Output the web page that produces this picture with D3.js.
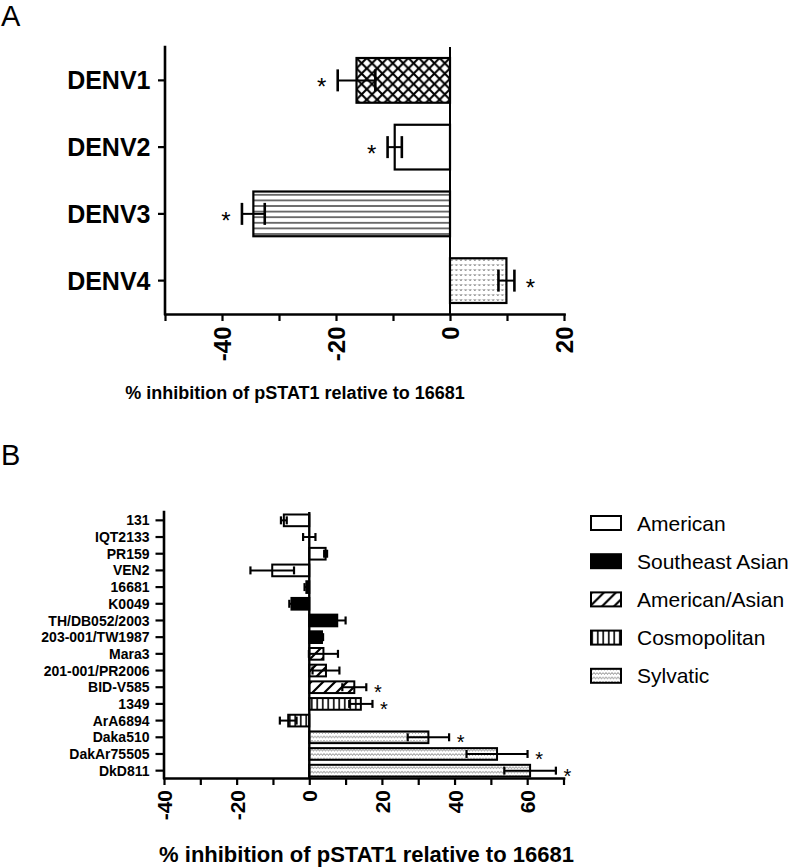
<!DOCTYPE html>
<html><head><meta charset="utf-8">
<script src="https://cdn.jsdelivr.net/npm/d3@7"></script>
<style>
html,body{margin:0;padding:0;background:#fff;}
svg{display:block;}
text{font-family:"Liberation Sans",Arial,Helvetica,sans-serif;fill:#000;}
</style></head><body>
<svg id="chart" width="794" height="867"></svg>
<script>
// ---------- data ----------
const panelACategories = ["DENV1", "DENV2", "DENV3", "DENV4"];
const panelAValues = [-16.4, -9.7, -34.5, 9.9];
const panelAErrors = [3.3, 1.25, 2.0, 1.4];
const panelASignificant = [true, true, true, true];
const panelATickValues = [-50, -40, -30, -20, -10, 0, 10, 20];
const panelATickLabels = [-40, -20, 0, 20];

const panelBStrains = ["131", "IQT2133", "PR159", "VEN2", "16681", "K0049", "TH/DB052/2003",
  "203-001/TW1987", "Mara3", "201-001/PR2006", "BID-V585", "1349", "ArA6894", "Daka510",
  "DakAr75505", "DkD811"];
const panelBGenotypes = ["American", "American", "American", "American",
  "Southeast Asian", "Southeast Asian", "Southeast Asian", "Southeast Asian",
  "American/Asian", "American/Asian", "American/Asian",
  "Cosmopolitan", "Cosmopolitan", "Sylvatic", "Sylvatic", "Sylvatic"];
const panelBValues = [-7.0, 0.0, 4.5, -10.2, -0.8, -4.9, 7.7, 3.5, 3.9, 4.6, 12.4, 14.2, -5.8, 32.8, 51.7, 60.8];
const panelBErrors = [0.8, 1.7, 0.4, 6.0, 0.5, 0.6, 2.3, 0.3, 4.0, 3.7, 3.3, 3.2, 2.3, 5.7, 8.4, 7.1];
const panelBSignificant = [false, false, false, false, false, false, false, false, false, false,
  true, true, false, true, true, true];
const panelBTickValues = [-40, -30, -20, -10, 0, 10, 20, 30, 40, 50, 60, 70];
const panelBTickLabels = [-40, -20, 0, 20, 40, 60];
const genotypeNames = ["American", "Southeast Asian", "American/Asian", "Cosmopolitan", "Sylvatic"];
const axisTitle = "% inhibition of pSTAT1 relative to 16681";
const panelLetters = ["A", "B"];

// ---------- setup ----------
const svg = d3.select("#chart");
const FONT = '"Liberation Sans", Arial, Helvetica, sans-serif';
svg.append("rect").attr("width", 794).attr("height", 867).attr("fill", "#fff");
const defs = svg.append("defs");

function pattern(id, w, h, x0, y0, build) {
  const p = defs.append("pattern").attr("id", id).attr("patternUnits", "userSpaceOnUse")
    .attr("width", w).attr("height", h).attr("x", x0).attr("y", y0);
  p.append("rect").attr("width", w).attr("height", h).attr("fill", "#fff");
  build(p);
}
// crosshatch (DENV1)
pattern("pat-cross", 10.4, 10.4, 450, 58, p => {
  p.append("path").attr("d", "M0,0L10.4,10.4M10.4,0L0,10.4").attr("stroke", "#000")
    .attr("stroke-width", 2.1).attr("stroke-linecap", "square");
});
// horizontal lines (DENV3)
pattern("pat-hline", 10, 5.6, 0, 192, p => {
  p.append("line").attr("x1", 0).attr("x2", 10).attr("y1", 2.8).attr("y2", 2.8)
    .attr("stroke", "#000").attr("stroke-width", 1.1);
});
// stipple (DENV4)
pattern("pat-dots", 4.6, 5, 450, 258, p => {
  p.append("path").attr("d", "M0.8,1.2l1,1.6l1,-1.6").attr("fill", "none")
    .attr("stroke", "#555").attr("stroke-width", 0.8);
});
// diagonal (American/Asian)
pattern("pat-diag", 12, 12, 309, 0, p => {
  p.append("path").attr("d", "M0,12L12,0M-3,3L3,-3M9,15L15,9").attr("stroke", "#000")
    .attr("stroke-width", 2.2);
});
// vertical lines (Cosmopolitan)
pattern("pat-vline", 5.5, 10, 309, 0, p => {
  p.append("line").attr("x1", 2.75).attr("x2", 2.75).attr("y1", 0).attr("y2", 10)
    .attr("stroke", "#000").attr("stroke-width", 1.6);
});
// stipple (Sylvatic)
pattern("pat-sylv", 6, 4.4, 309, 0, p => {
  p.append("path").attr("d", "M0,1.2l1.5,1.8l1.5,-1.8l1.5,1.8l1.5,-1.8").attr("fill", "none")
    .attr("stroke", "#666").attr("stroke-width", 0.75);
});

const fillA = { DENV1: "url(#pat-cross)", DENV2: "#fff", DENV3: "url(#pat-hline)", DENV4: "url(#pat-dots)" };
const fillB = {
  "American": "#fff", "Southeast Asian": "#000", "American/Asian": "url(#pat-diag)",
  "Cosmopolitan": "url(#pat-vline)", "Sylvatic": "url(#pat-sylv)"
};

// panel letters
svg.append("text").attr("x", 1).attr("y", 26).attr("font-size", 29).text(panelLetters[0]);
svg.append("text").attr("x", 1).attr("y", 465).attr("font-size", 29).text(panelLetters[1]);

// ---------- panel A ----------
const xA = d3.scaleLinear().domain([-50, 20]).range([165, 564]);
const yA = d3.scaleBand().domain(panelACategories).range([47, 314]).paddingInner(0.33).paddingOuter(0.165);
const gA = svg.append("g");
const dataA = panelACategories.map((c, i) => ({ c, v: panelAValues[i], e: panelAErrors[i], s: panelASignificant[i] }));

gA.selectAll("rect.bar").data(dataA).join("rect").attr("class", "bar")
  .attr("x", d => Math.min(xA(0), xA(d.v))).attr("width", d => Math.abs(xA(d.v) - xA(0)))
  .attr("y", d => yA(d.c)).attr("height", yA.bandwidth())
  .attr("fill", d => fillA[d.c]).attr("stroke", "#000").attr("stroke-width", 2.2);

// zero line
gA.append("line").attr("x1", xA(0)).attr("x2", xA(0)).attr("y1", 47).attr("y2", 314)
  .attr("stroke", "#000").attr("stroke-width", 2);

// error bars
const ebA = gA.selectAll("g.eb").data(dataA).join("g").attr("class", "eb")
  .attr("transform", d => `translate(0,${yA(d.c) + yA.bandwidth() / 2})`);
ebA.append("line").attr("x1", d => xA(d.v - d.e)).attr("x2", d => xA(d.v + d.e))
  .attr("stroke", "#000").attr("stroke-width", 2);
ebA.append("line").attr("x1", d => xA(d.v - d.e)).attr("x2", d => xA(d.v - d.e))
  .attr("y1", -11).attr("y2", 11).attr("stroke", "#000").attr("stroke-width", 2.6);
ebA.append("line").attr("x1", d => xA(d.v + d.e)).attr("x2", d => xA(d.v + d.e))
  .attr("y1", -11).attr("y2", 11).attr("stroke", "#000").attr("stroke-width", 2.6);
ebA.filter(d => d.s).append("text").attr("text-anchor", "middle").attr("font-size", 24)
  .attr("x", d => d.v < 0 ? xA(d.v - d.e) - 16 : xA(d.v + d.e) + 16).attr("y", 15).text("*");

// axes A
const axAy = gA.append("g").attr("transform", `translate(${xA.range()[0]},0)`)
  .call(d3.axisLeft(yA).tickSize(7).tickSizeOuter(0).tickPadding(7.5));
const axAx = gA.append("g").attr("transform", "translate(0,314)")
  .call(d3.axisBottom(xA).tickValues(panelATickValues).tickSize(7).tickSizeOuter(0)
    .tickFormat(d => panelATickLabels.includes(d) ? String(d) : ""));
[axAy, axAx].forEach(a => {
  a.attr("font-family", FONT);
  a.select(".domain").attr("stroke-width", 2.6).attr("stroke-linecap", "square");
  a.selectAll(".tick line").attr("stroke-width", 2.2);
});
axAy.select(".domain").attr("d", "M0,47V314");
axAy.selectAll("text").attr("font-size", 25).attr("font-weight", "bold").attr("dy", "0.36em");
axAx.selectAll("text").attr("font-size", 24).attr("font-weight", "bold")
  .attr("transform", "rotate(-90)").attr("text-anchor", "end")
  .attr("x", -12.5).attr("y", 0).attr("dy", "0.36em");

gA.append("text").attr("x", 295).attr("y", 399).attr("text-anchor", "middle")
  .attr("font-size", 18).attr("font-weight", "bold").text(axisTitle);

// ---------- panel B ----------
const xB = d3.scaleLinear().domain([-40, 70]).range([164, 563.5]);
const yB = d3.scaleBand().domain(panelBStrains).range([512, 779]).paddingInner(0.3).paddingOuter(0.15);
const gB = svg.append("g");
const dataB = panelBStrains.map((c, i) => ({
  c, g: panelBGenotypes[i], v: panelBValues[i], e: panelBErrors[i], s: panelBSignificant[i]
}));

gB.selectAll("rect.bar").data(dataB).join("rect").attr("class", "bar")
  .attr("x", d => Math.min(xB(0), xB(d.v))).attr("width", d => Math.abs(xB(d.v) - xB(0)))
  .attr("y", d => yB(d.c)).attr("height", yB.bandwidth())
  .attr("fill", d => fillB[d.g]).attr("stroke", "#000").attr("stroke-width", 2);

gB.append("line").attr("x1", xB(0)).attr("x2", xB(0)).attr("y1", 512).attr("y2", 778)
  .attr("stroke", "#000").attr("stroke-width", 2.4);

const ebB = gB.selectAll("g.eb").data(dataB).join("g").attr("class", "eb")
  .attr("transform", d => `translate(0,${yB(d.c) + yB.bandwidth() / 2})`);
ebB.append("line").attr("x1", d => xB(d.v - d.e)).attr("x2", d => xB(d.v + d.e))
  .attr("stroke", "#000").attr("stroke-width", 2);
ebB.append("line").attr("x1", d => xB(d.v - d.e)).attr("x2", d => xB(d.v - d.e))
  .attr("y1", -4).attr("y2", 4).attr("stroke", "#000").attr("stroke-width", 2.2);
ebB.append("line").attr("x1", d => xB(d.v + d.e)).attr("x2", d => xB(d.v + d.e))
  .attr("y1", -4).attr("y2", 4).attr("stroke", "#000").attr("stroke-width", 2.2);
ebB.filter(d => d.s).append("text").attr("text-anchor", "middle").attr("font-size", 20)
  .attr("x", d => xB(d.v + d.e) + 11.5).attr("y", 12).text("*");

const axBy = gB.append("g").attr("transform", `translate(${xB.range()[0]},0)`)
  .call(d3.axisLeft(yB).tickSize(8.5).tickSizeOuter(0).tickPadding(6));
const axBx = gB.append("g").attr("transform", "translate(0,778)")
  .call(d3.axisBottom(xB).tickValues(panelBTickValues).tickSize(7).tickSizeOuter(0)
    .tickFormat(d => panelBTickLabels.includes(d) ? String(d) : ""));
[axBy, axBx].forEach(a => {
  a.attr("font-family", FONT);
  a.select(".domain").attr("stroke-width", 2.6).attr("stroke-linecap", "square");
  a.selectAll(".tick line").attr("stroke-width", 2.2);
});
axBy.select(".domain").attr("d", "M0,512V778");
axBy.selectAll("text").attr("font-size", 14).attr("font-weight", "bold").attr("dy", "0.36em");
axBx.selectAll("text").attr("font-size", 21).attr("font-weight", "bold")
  .attr("transform", "rotate(-90)").attr("text-anchor", "end")
  .attr("x", -12).attr("y", 0).attr("dy", "0.36em");

gB.append("text").attr("x", 366.5).attr("y", 862).attr("text-anchor", "middle")
  .attr("font-size", 22).attr("font-weight", "bold").text(axisTitle);

// legend
const legY = d3.scaleLinear().domain([0, genotypeNames.length - 1]).range([523, 675.8]);
const leg = gB.selectAll("g.leg").data(genotypeNames).join("g").attr("class", "leg")
  .attr("transform", (d, i) => `translate(0,${legY(i)})`);
leg.append("rect").attr("x", 591).attr("y", -7).attr("width", 30).attr("height", 14)
  .attr("fill", d => fillB[d]).attr("stroke", "#000").attr("stroke-width", 2);
leg.append("text").attr("x", 637).attr("y", 7.5).attr("font-size", 21).text(d => d);
</script>
</body></html>
